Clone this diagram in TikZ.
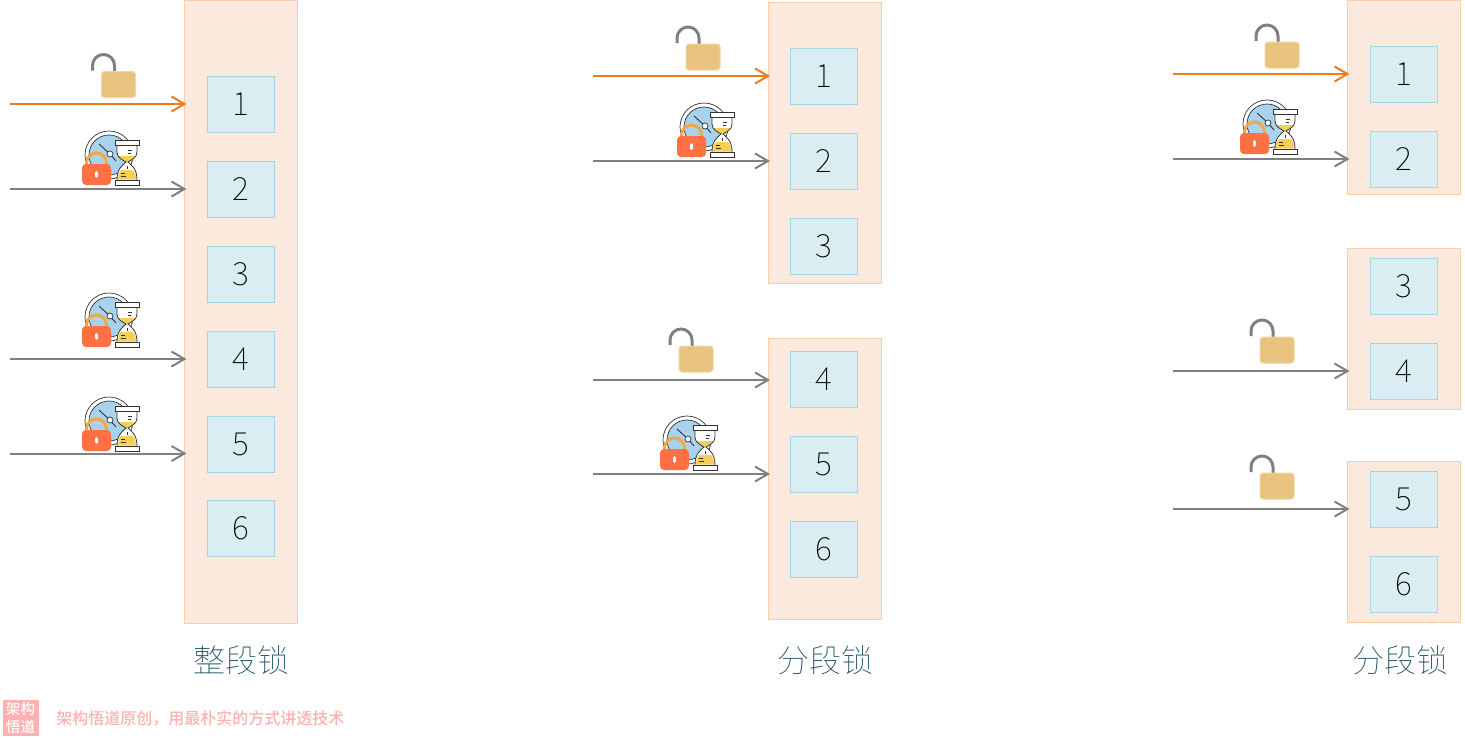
\documentclass[tikz,border=0pt]{standalone}
\usepackage{fontspec}
\setmainfont{Noto Sans CJK SC}[UprightFont=* Thin]
\newfontfamily\wmfont{Noto Sans CJK SC}[UprightFont=* Medium]
\usetikzlibrary{arrows.meta}
\definecolor{segfill}{HTML}{FBE9DD}
\definecolor{segline}{HTML}{F8CDA8}
\definecolor{cellfill}{HTML}{DAEDF3}
\definecolor{cellline}{HTML}{A5D5E0}
\definecolor{greyline}{HTML}{808080}
\definecolor{orangeline}{HTML}{ED7D1C}
\definecolor{capt}{HTML}{1F5263}
\definecolor{wm}{HTML}{FFB0B0}
\definecolor{padbody}{HTML}{E8C47F}
\definecolor{padedge}{HTML}{F0D6A0}
\definecolor{lockred}{HTML}{FF7043}
\definecolor{lockarc}{HTML}{F5A742}
\definecolor{clockblue}{HTML}{A9D2EE}
\definecolor{sand}{HTML}{F6CF55}
\definecolor{inkdark}{HTML}{333333}
\tikzset{
  x=0.5pt,y=-0.5pt,
  seg/.style={rectangle,draw=segline,fill=segfill,line width=0.5pt,minimum width=56.5pt,outer sep=0pt,inner sep=0pt},
  cell/.style={rectangle,draw=cellline,fill=cellfill,line width=0.5pt,minimum width=33.5pt,minimum height=28pt,outer sep=0pt,inner sep=0pt,font=\fontsize{16}{16}\selectfont,text=black},
  caption/.style={font=\fontsize{16}{16}\selectfont,text=capt,inner sep=0pt},
  req/.style={line width=1pt,-{Straight Barb[length=6.5pt,width=7.5pt,line width=1pt]},shorten >=-1pt},
  grey req/.style={req,draw=greyline},
  orange req/.style={req,draw=orangeline},
  unlock/.pic={
    \draw[greyline,line width=1.5pt] (-9,-1) -- (-9,-6) arc[start angle=180,end angle=360,radius=11] -- (13,1);
    \draw[padedge,fill=padbody,line width=0.5pt,rounded corners=1.5pt] (0,0) rectangle (34,26);
  },
  waitlock/.pic={
    \fill[white] (27,-9) circle[radius=24];
    \draw[inkdark,line width=0.35pt] (27,-9) circle[radius=24];
    \fill[clockblue] (27,-9) circle[radius=20];
    \draw[inkdark,line width=0.35pt] (27,-9) circle[radius=20];
    \draw[inkdark,line width=0.45pt] (28,-10) -- (17,-20);
    \draw[inkdark,line width=0.45pt] (28,-10) -- (34,-3);
    \draw[inkdark,fill=white,line width=0.35pt] (28,-10) circle[radius=3];
    % hourglass
    \fill[white] (35,-19) -- (55,-19) -- (55,-12) .. controls (55,-6) and (49,-4) .. (46,-2) .. controls (49,1) and (55,4) .. (55,16) -- (35,16) .. controls (35,4) and (41,1) .. (44,-2) .. controls (41,-4) and (35,-6) .. (35,-12) -- cycle;
    \fill[sand] (36.5,-8) .. controls (39,-5) and (42,-3.5) .. (45,-1.5) .. controls (48,-3.5) and (51,-5) .. (53.5,-8) -- cycle;
    \fill[sand] (36,15.5) .. controls (36,10) and (38,7) .. (39,6) -- (51,6) .. controls (52,7) and (54,10) .. (54,15.5) -- cycle;
    \draw[inkdark,line width=0.4pt] (35,-19) -- (35,-12) .. controls (35,-6) and (41,-4) .. (44,-2) .. controls (41,1) and (35,4) .. (35,16);
    \draw[inkdark,line width=0.4pt] (55,-19) -- (55,-12) .. controls (55,-6) and (49,-4) .. (46,-2) .. controls (49,1) and (55,4) .. (55,16);
    \draw[inkdark,line width=0.35pt] (46,-14) -- (50,-14) (46,-10.5) -- (49,-10.5) (39,9) -- (43,9) (39,12) -- (44,12) (45,2) -- (45,5);
    \draw[inkdark,fill=white,line width=0.4pt] (33,-24) rectangle (57,-19);
    \draw[inkdark,fill=white,line width=0.4pt] (33,16) rectangle (57,21);
    % padlock
    \draw[lockarc,line width=1.5pt] (4.5,2) -- (4.5,-1) arc[start angle=180,end angle=360,radius=10] -- (24.5,2);
    \fill[lockred,rounded corners=2pt] (0,0) rectangle (29,21);
    \fill[white,rounded corners=0.8pt] (13,7) rectangle (16,14);
  }
}
\begin{document}
\begin{tikzpicture}
\useasboundingbox (0,0) rectangle (1465,739);
% column 1
\node[seg,anchor=north west,minimum height=311.5pt] (sA) at (184.5,0.5) {};
\node[cell] (a1) at (241,104.5) {1};
\node[cell] (a2) at (241,189.5) {2};
\node[cell] (a3) at (241,274.5) {3};
\node[cell] (a4) at (241,359.5) {4};
\node[cell] (a5) at (241,444.5) {5};
\node[cell] (a6) at (241,528.5) {6};
\coordinate (ar1) at (10,104);
\coordinate (ar2) at (10,189);
\coordinate (ar3) at (10,359);
\coordinate (ar4) at (10,453.5);
\pic at (101.5,71.5) {unlock};
\pic at (82,164) {waitlock};
\pic at (82,326) {waitlock};
\pic at (82,430) {waitlock};
\draw[orange req] (ar1) -- (ar1 -| sA.west);
\draw[grey req] (ar2) -- (ar2 -| sA.west);
\draw[grey req] (ar3) -- (ar3 -| sA.west);
\draw[grey req] (ar4) -- (ar4 -| sA.west);
\node[caption] (capA) at (241,660) {整段锁};
% column 2
\node[seg,anchor=north west,minimum height=140.5pt] (sB) at (768,2.5) {};
\node[seg,anchor=north west,minimum height=140.5pt] (sC) at (768,338.5) {};
\node[cell] (b1) at (824,76.5) {1};
\node[cell] (b2) at (824,161.5) {2};
\node[cell] (b3) at (824,246.5) {3};
\node[cell] (b4) at (824,379.5) {4};
\node[cell] (b5) at (824,464.5) {5};
\node[cell] (b6) at (824,549.5) {6};
\coordinate (br1) at (593,76);
\coordinate (br2) at (593,161);
\coordinate (br3) at (593,380);
\coordinate (br4) at (593,474);
\pic at (686,44) {unlock};
\pic at (679,346) {unlock};
\pic at (677,136) {waitlock};
\pic at (660,449) {waitlock};
\draw[orange req] (br1) -- (br1 -| sB.west);
\draw[grey req] (br2) -- (br2 -| sB.west);
\draw[grey req] (br3) -- (br3 -| sC.west);
\draw[grey req] (br4) -- (br4 -| sC.west);
\node[caption] (capB) at (825,660) {分段锁};
% column 3
\node[seg,anchor=north west,minimum height=97pt] (sD) at (1347.5,0.5) {};
\node[seg,anchor=north west,minimum height=80.5pt] (sE) at (1347.5,248) {};
\node[seg,anchor=north west,minimum height=80.5pt] (sF) at (1347.5,461) {};
\node[cell] (c1) at (1404,74.5) {1};
\node[cell] (c2) at (1404,159.5) {2};
\node[cell] (c3) at (1404,286.5) {3};
\node[cell] (c4) at (1404,371.5) {4};
\node[cell] (c5) at (1404,499.5) {5};
\node[cell] (c6) at (1404,584.5) {6};
\coordinate (cr1) at (1173,74);
\coordinate (cr2) at (1173,159);
\coordinate (cr3) at (1173,371);
\coordinate (cr4) at (1173,509);
\pic at (1265,42) {unlock};
\pic at (1260,337) {unlock};
\pic at (1260,473) {unlock};
\pic at (1240,133) {waitlock};
\draw[orange req] (cr1) -- (cr1 -| sD.west);
\draw[grey req] (cr2) -- (cr2 -| sD.west);
\draw[grey req] (cr3) -- (cr3 -| sE.west);
\draw[grey req] (cr4) -- (cr4 -| sF.west);
\node[caption] (capC) at (1400,660) {分段锁};
% watermark
\node[rectangle,fill=wm,minimum width=18pt,minimum height=18pt,inner sep=0pt,outer sep=0pt,align=center,text=white,font=\wmfont\fontsize{7.3}{8.6}\selectfont] (wmbox) at (20.5,718) {架构\\悟道};
\node[anchor=west,inner sep=0pt,text=wm,font=\wmfont\fontsize{8}{9}\selectfont] (wmtext) at (56,719) {架构悟道原创，用最朴实的方式讲透技术};
\end{tikzpicture}
\end{document}
